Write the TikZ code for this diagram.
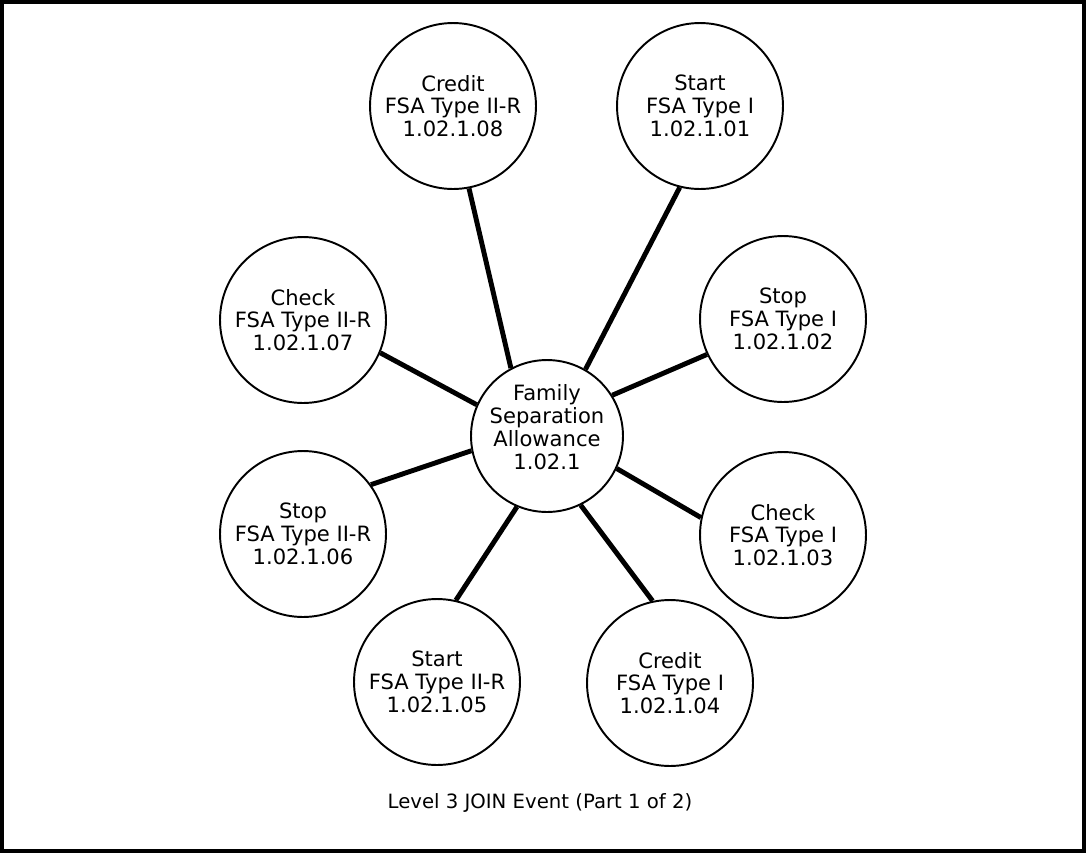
\documentclass[tikz,border=0pt]{standalone}
\usepackage{fontspec}
\setmainfont{DejaVu Sans}
\begin{document}
\begin{tikzpicture}[x=0.02cm,y=-0.02cm,
  bubble/.style={circle,draw,line width=1.1pt,minimum size=3.32cm,inner sep=0pt,align=center,
    font=\fontsize{12}{13}\selectfont},
  hub/.style={circle,draw,line width=1.1pt,minimum size=3.04cm,inner sep=0pt},
  hubtext/.style={align=center,inner sep=0pt,font=\fontsize{12}{13}\selectfont},
  link/.style={line width=2.8pt}]
\useasboundingbox (0,0) rectangle (1086,853);
\draw[line width=2.3pt] (2,2) rectangle (1084,851);
\node[hub] (c) at (547,436) {};
\node[hubtext] (ct) at (547,427) {Family\\Separation\\Allowance\\1.02.1};
\node[bubble] (n08) at (453,106) {Credit\\FSA Type II-R\\1.02.1.08};
\node[bubble] (n01) at (700,106) {Start\\FSA Type I\\1.02.1.01};
\node[bubble] (n02) at (783,319) {Stop\\FSA Type I\\1.02.1.02};
\node[bubble] (n03) at (783,535) {Check\\FSA Type I\\1.02.1.03};
\node[bubble] (n04) at (670,683) {Credit\\FSA Type I\\1.02.1.04};
\node[bubble] (n05) at (437,682) {Start\\FSA Type II-R\\1.02.1.05};
\node[bubble] (n06) at (303,534) {Stop\\FSA Type II-R\\1.02.1.06};
\node[bubble] (n07) at (303,320) {Check\\FSA Type II-R\\1.02.1.07};
\draw[link] (c.118.7) -- (n08.-79.6);
\draw[link] (c.60.7) -- (n01.-104.5);
\draw[link] (c.32.2) -- (n02.205.3);
\draw[link] (c.-25.9) -- (n03.168.1);
\draw[link] (c.-64.8) -- (n04.102.2);
\draw[link] (c.247.1) -- (n05.77.6);
\draw[link] (c.191.7) -- (n06.36.5);
\draw[link] (c.156.7) -- (n07.-23.2);
\node[font=\fontsize{11.2}{13}\selectfont] (cap) at (540,803) {Level 3 JOIN Event (Part 1 of 2)};
\end{tikzpicture}
\end{document}
